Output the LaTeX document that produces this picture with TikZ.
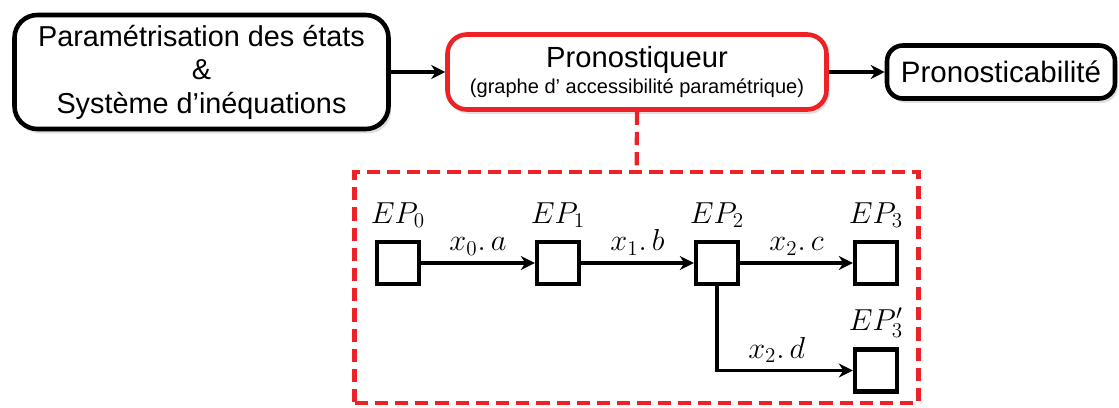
\documentclass[tikz,border=0pt]{standalone}
\usepackage{amsmath}
\usepackage{fontspec}
\setmainfont{Liberation Sans}
\usetikzlibrary{arrows.meta, shadows}
\definecolor{pronored}{RGB}{236,34,39}

\begin{document}
\begin{tikzpicture}[
    bigbox/.style={draw, line width=2.6pt, rounded corners=13pt, fill=white, align=center,
      drop shadow={shadow xshift=1.5pt, shadow yshift=-2.5pt, opacity=0.25}},
    state/.style={draw, line width=2.5pt, minimum size=0.84cm, inner sep=0pt},
    flow/.style={-{Stealth[length=8pt,width=8pt]}, line width=2pt}
  ]
  \useasboundingbox (0,0) rectangle (22.38,-8.14);
  % top chain
  \node[bigbox, minimum width=7.48cm, minimum height=2.28cm, font=\fontsize{16.4}{19}\selectfont] (param) at (4.03,-1.44)
    {Paramétrisation des états\\ \&\\ Système d’inéquations};
  \node[bigbox, draw=pronored, rounded corners=11pt, minimum width=7.58cm, minimum height=1.5cm] (prono) at (12.74,-1.44)
    {\fontsize{16.6}{18}\selectfont Pronostiqueur\\[3pt] \fontsize{11.4}{13}\selectfont(graphe d’ accessibilité paramétrique)};
  \node[bigbox, rounded corners=9pt, minimum width=4.56cm, minimum height=1.06cm, font=\fontsize{16.8}{18}\selectfont] (result) at (20.02,-1.44) {Pronosticabilité};
  \draw[flow] (param) -- (prono);
  \draw[flow] (prono) -- (result);

  % parametric reachability graph
  \node[draw=pronored, dash pattern=on 7.5pt off 4pt, line width=2.4pt, minimum width=11.28cm, minimum height=4.62cm] (frame) at (12.73,-5.75) {};
  \draw[draw=pronored, dash pattern=on 7.5pt off 4pt, line width=2.4pt] (prono) -- (frame);

  \begin{scope}[font=\fontsize{16.5}{18}\selectfont]
    \node[state] (ep0) at (7.96,-5.26) {};
    \node[state] (ep1) at (11.16,-5.26) {};
    \node[state] (ep2) at (14.34,-5.26) {};
    \node[state] (ep3) at (17.52,-5.26) {};
    \node[state] (ep3b) at (17.52,-7.41) {};
    \node (lab0) at (7.96,-4.3) {$EP_0$};
    \node (lab1) at (11.16,-4.3) {$EP_1$};
    \node (lab2) at (14.34,-4.3) {$EP_2$};
    \node (lab3) at (17.52,-4.3) {$EP_3$};
    \node (lab3b) at (17.52,-6.45) {$EP'_3$};
    \draw[flow] (ep0) -- node[above] {$x_0.\,a$} (ep1);
    \draw[flow] (ep1) -- node[above] {$x_1.\,b$} (ep2);
    \draw[flow] (ep2) -- node[above] {$x_2.\,c$} (ep3);
    \draw[flow] (ep2.south) |- node[above, pos=0.72] {$x_2.\,d$} (ep3b);
  \end{scope}
\end{tikzpicture}
\end{document}
